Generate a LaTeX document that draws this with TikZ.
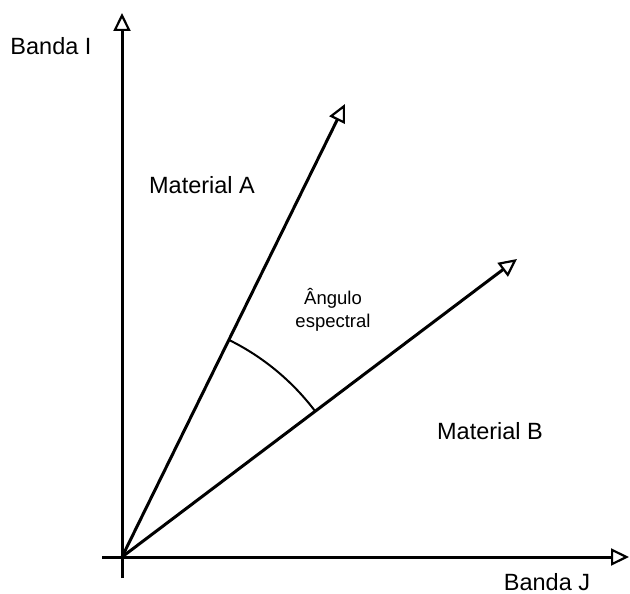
\documentclass[tikz,border=0pt]{standalone}
\usepackage{fontspec}
\setmainfont{Liberation Sans}
\usetikzlibrary{arrows.meta,calc}
\begin{document}
\begin{tikzpicture}[x=1pt,y=-1pt,
  vec/.style={line width=3pt,-{Triangle[open,length=18pt,width=17pt,line width=2.2pt,fill=white]}},
  lbl/.style={font=\fontsize{23.5}{26}\selectfont,inner sep=0pt},
  small/.style={font=\fontsize{18.5}{23}\selectfont,align=center,inner sep=0pt}]
\useasboundingbox[fill=white] (0,0) rectangle (630,594);
\coordinate (O) at (122,557);
\coordinate (Ybot) at (122,578);
\coordinate (Ytop) at (122,13);
\coordinate (Xleft) at (102,557);
\coordinate (Xright) at (629,557);
\coordinate (A) at (345,104);
\coordinate (B) at (517,259);
\coordinate (arcA) at ($(O)+(-63.8:242)$);
\draw[vec] (Ybot) -- (Ytop);
\draw[vec] (Xleft) -- (Xright);
\draw[vec] (O) -- (A);
\draw[vec] (O) -- (B);
\draw[line width=2pt] (arcA) arc[start angle=-63.8,end angle=-37.1,radius=242];
\node[lbl] (bi) at (51,46) {Banda I};
\node[lbl] (bj) at (547,582) {Banda J};
\node[lbl] (ma) at (202,185) {Material A};
\node[lbl] (mb) at (490,431) {Material B};
\node[small] (ang) at (333,310) {Ângulo\\espectral};
\end{tikzpicture}
\end{document}
